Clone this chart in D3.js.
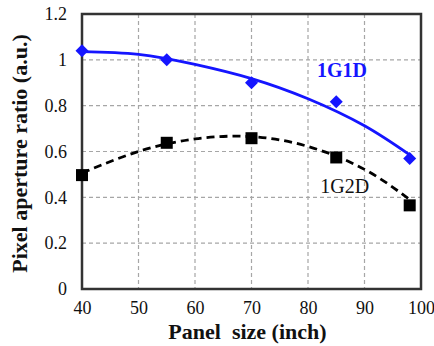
<!DOCTYPE html>
<html>
<head>
<meta charset="utf-8">
<script src="https://cdn.jsdelivr.net/npm/d3@7"></script>
<style>
  body { margin: 0; background: #fff; }
</style>
</head>
<body>
<div id="chart"></div>
<script>
// measured points
const sizes = [40, 55, 70, 85, 98];
const ratio1G1D = [1.04, 1.0, 0.9, 0.817, 0.57];
const ratio1G2D = [0.497, 0.638, 0.658, 0.574, 0.365];

// trend lines
const trendX = [40, 50, 60, 70, 80, 90, 98];
const trend1G1D = [1.036, 1.024, 0.98, 0.918, 0.83, 0.712, 0.585];
const trend2G2D = [0.506, 0.6, 0.655, 0.665, 0.622, 0.522, 0.39];

const xTicks = [40, 50, 60, 70, 80, 90, 100];
const yTicks = [0, 0.2, 0.4, 0.6, 0.8, 1, 1.2];

// pick a serif font that is really installed
function pickFont(list) {
  const ctx = document.createElement("canvas").getContext("2d");
  const s = "Pixel aperture ratio 1G1D";
  ctx.font = "40px monospace"; const m = ctx.measureText(s).width;
  ctx.font = "40px sans-serif"; const sn = ctx.measureText(s).width;
  for (const f of list) {
    ctx.font = `40px "${f}", monospace`;
    const w1 = ctx.measureText(s).width;
    ctx.font = `40px "${f}", sans-serif`;
    const w2 = ctx.measureText(s).width;
    if (w1 !== m && w2 !== sn) return `"${f}"`;
  }
  return "serif";
}
const serif = pickFont(["Liberation Serif", "Times New Roman", "DejaVu Serif", "Noto Serif", "Tinos"]);

const W = 434, H = 346;
const margin = { top: 14, right: 13, bottom: 57, left: 82 };
const width = W - margin.left - margin.right;
const height = H - margin.top - margin.bottom;

const svg = d3.select("#chart").append("svg")
  .attr("width", W).attr("height", H)
  .style("display", "block")
  .style("font-family", serif);

const g = svg.append("g")
  .attr("transform", `translate(${margin.left},${margin.top})`);

const x = d3.scaleLinear().domain([40, 100]).range([0, width]);
const y = d3.scaleLinear().domain([0, 1.2]).range([height, 0]);

// grid
g.append("g").selectAll("line")
  .data(xTicks.slice(1, -1)).join("line")
  .attr("x1", d => x(d)).attr("x2", d => x(d))
  .attr("y1", 0).attr("y2", height)
  .attr("stroke", "#a6a6a6").attr("stroke-width", 1.2)
  .attr("stroke-dasharray", "4,3");
g.append("g").selectAll("line")
  .data(yTicks.slice(1, -1)).join("line")
  .attr("x1", 0).attr("x2", width)
  .attr("y1", d => y(d)).attr("y2", d => y(d))
  .attr("stroke", "#a6a6a6").attr("stroke-width", 1.2)
  .attr("stroke-dasharray", "4,3");

// axes (labels only)
const xAxis = g.append("g")
  .attr("transform", `translate(0,${height})`)
  .call(d3.axisBottom(x).tickValues(xTicks).tickSize(0).tickPadding(12));
const yAxis = g.append("g")
  .call(d3.axisLeft(y).tickValues(yTicks).tickSize(0).tickPadding(15)
    .tickFormat(d => String(+d.toFixed(1))));
[xAxis, yAxis].forEach(a => {
  a.attr("font-family", null).attr("font-size", null);
  a.select(".domain").remove();
  a.selectAll(".tick text")
    .style("font-size", "18px")
    .attr("fill", "#111");
});

// frame
g.append("rect")
  .attr("x", 0).attr("y", 0).attr("width", width).attr("height", height)
  .attr("fill", "none").attr("stroke", "#333").attr("stroke-width", 2.5);

const line = d3.line().x(d => x(d[0])).y(d => y(d[1])).curve(d3.curveNatural);

g.append("path")
  .datum(trendX.map((v, i) => [v, trend1G1D[i]]))
  .attr("d", line).attr("fill", "none")
  .attr("stroke", "#1515ff").attr("stroke-width", 2.8);

g.append("path")
  .datum(trendX.map((v, i) => [v, trend2G2D[i]]))
  .attr("d", line).attr("fill", "none")
  .attr("stroke", "#000").attr("stroke-width", 2.8)
  .attr("stroke-dasharray", "8,5");

// markers
g.selectAll("path.dia")
  .data(sizes.map((v, i) => [v, ratio1G1D[i]])).join("path")
  .attr("class", "dia")
  .attr("transform", d => `translate(${x(d[0])},${y(d[1])})`)
  .attr("d", "M0,-6.5L6.5,0L0,6.5L-6.5,0Z")
  .attr("fill", "#1515ff");

g.selectAll("rect.sq")
  .data(sizes.map((v, i) => [v, ratio1G2D[i]])).join("rect")
  .attr("class", "sq")
  .attr("x", d => x(d[0]) - 6).attr("y", d => y(d[1]) - 6)
  .attr("width", 12).attr("height", 12)
  .attr("fill", "#000");

// series labels
g.append("text")
  .attr("x", x(86)).attr("y", y(0.925))
  .attr("text-anchor", "middle")
  .style("font-size", "20px").style("font-weight", "bold")
  .attr("fill", "#1515ff").text("1G1D");

g.append("text")
  .attr("x", x(86.5)).attr("y", y(0.418))
  .attr("text-anchor", "middle")
  .style("font-size", "20px")
  .attr("fill", "#111").text("1G2D");

// axis titles
svg.append("text")
  .attr("x", margin.left + width / 2 - 4).attr("y", 339)
  .attr("text-anchor", "middle")
  .style("font-size", "22px").style("font-weight", "bold")
  .style("white-space", "pre")
  .attr("fill", "#111")
  .text("Panel  size (inch)");

svg.append("text")
  .attr("transform", `translate(27,${margin.top + height / 2 + 2}) rotate(-90)`)
  .attr("text-anchor", "middle")
  .style("font-size", "22px").style("font-weight", "bold")
  .attr("fill", "#111")
  .text("Pixel aperture ratio (a.u.)");
</script>
</body>
</html>
